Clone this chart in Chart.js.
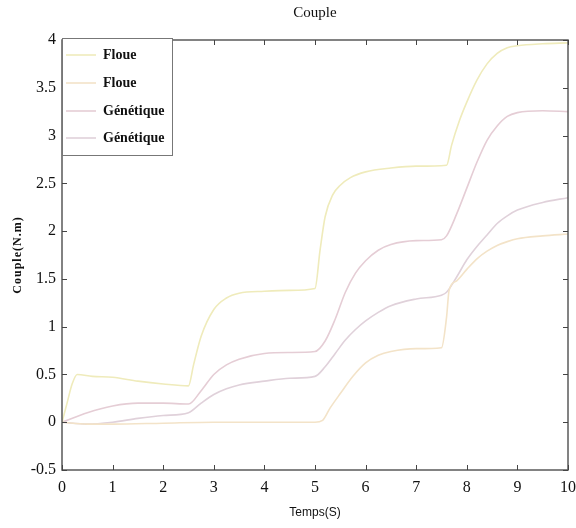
<!DOCTYPE html>
<html>
<head>
<meta charset="utf-8">
<script src="https://cdn.jsdelivr.net/npm/chart.js@4"></script>
<style>
  html, body { margin: 0; padding: 0; background: #fff; }
  #wrap { width: 576px; height: 528px; }
</style>
</head>
<body>
<div id="wrap"><canvas id="c" width="576" height="528"></canvas></div>
<script>
// Time grids (s) and torque values (N.m) for each response
const tFloue1 = [0, 0.1, 0.2, 0.3, 0.6, 1.0, 1.5, 2.0, 2.5, 2.6, 2.75, 3.0, 3.25, 3.5, 4.0, 4.5, 5.0, 5.1, 5.2, 5.35, 5.5, 5.7, 6.0, 6.5, 7.0, 7.6, 7.7, 7.85, 8.0, 8.2, 8.4, 8.6, 8.8, 9.0, 9.5, 10];
const vFloue1 = [0, 0.2, 0.4, 0.5, 0.48, 0.47, 0.43, 0.4, 0.38, 0.6, 0.9, 1.18, 1.3, 1.35, 1.37, 1.38, 1.4, 1.8, 2.15, 2.38, 2.48, 2.56, 2.62, 2.66, 2.68, 2.69, 2.9, 3.15, 3.35, 3.58, 3.75, 3.86, 3.92, 3.94, 3.96, 3.97];

const tFloue2 = [0, 0.5, 1, 2, 3, 4, 5, 5.15, 5.3, 5.5, 5.75, 6.0, 6.25, 6.5, 7.0, 7.5, 7.6, 7.65, 7.8, 8.0, 8.2, 8.4, 8.6, 8.8, 9.0, 9.5, 10];
const vFloue2 = [0, -0.02, -0.02, -0.01, 0, 0, 0, 0.02, 0.15, 0.3, 0.48, 0.62, 0.7, 0.74, 0.77, 0.78, 1.1, 1.38, 1.48, 1.6, 1.71, 1.79, 1.85, 1.89, 1.92, 1.95, 1.97];

const tGen1 = [0, 0.5, 1, 1.5, 2, 2.5, 2.75, 3.0, 3.25, 3.5, 4.0, 4.5, 5.0, 5.2, 5.4, 5.6, 5.8, 6.0, 6.25, 6.5, 7.0, 7.5, 7.6, 7.8, 8.0, 8.2, 8.4, 8.6, 8.8, 9.0, 9.5, 10];
const vGen1 = [0, 0.1, 0.17, 0.2, 0.2, 0.19, 0.33, 0.5, 0.6, 0.66, 0.72, 0.73, 0.74, 0.85, 1.08, 1.36, 1.56, 1.69, 1.8, 1.86, 1.9, 1.91, 1.95, 2.18, 2.45, 2.72, 2.95, 3.1, 3.2, 3.24, 3.26, 3.25];

const tGen2 = [0, 0.5, 1, 1.5, 2, 2.5, 2.75, 3.0, 3.25, 3.5, 4.0, 4.5, 5.0, 5.2, 5.4, 5.6, 5.8, 6.0, 6.25, 6.5, 7.0, 7.5, 7.6, 7.8, 8.0, 8.2, 8.4, 8.6, 8.8, 9.0, 9.5, 10];
const vGen2 = [0, -0.02, 0, 0.04, 0.07, 0.1, 0.2, 0.29, 0.35, 0.39, 0.43, 0.46, 0.48, 0.58, 0.72, 0.86, 0.97, 1.06, 1.15, 1.22, 1.29, 1.33, 1.36, 1.52, 1.7, 1.84, 1.96, 2.08, 2.16, 2.22, 2.3, 2.35];

const seriesLabels = ['Floue', 'Floue', 'Génétique', 'Génétique'];
const xTicks = [0, 1, 2, 3, 4, 5, 6, 7, 8, 9, 10];
const yTicks = [-0.5, 0, 0.5, 1, 1.5, 2, 2.5, 3, 3.5, 4];

const pts = (t, v) => t.map((x, i) => ({ x: x, y: v[i] }));
const colors = ['#efebbb', '#f3e3c8', '#e5cdd5', '#e0d1da'];

const datasets = [
  pts(tFloue1, vFloue1),
  pts(tFloue2, vFloue2),
  pts(tGen1, vGen1),
  pts(tGen2, vGen2)
].map((data, i) => ({
  label: seriesLabels[i],
  data: data,
  borderColor: colors[i],
  backgroundColor: colors[i],
  borderWidth: 1.6,
  pointRadius: 0,
  tension: 0.35,
  cubicInterpolationMode: 'monotone',
  fill: false
}));

const SERIF = '"Liberation Serif", "Times New Roman", serif';

// Frame, inward ticks, titles and boxed legend
const decor = {
  id: 'decor',
  afterDatasetsDraw(chart) {
    const { ctx, chartArea: a, scales } = chart;
    const xs = scales.x, ys = scales.y;
    ctx.save();
    // frame
    ctx.strokeStyle = '#5a5a5a';
    ctx.lineWidth = 1.5;
    ctx.strokeRect(a.left, a.top, a.right - a.left, a.bottom - a.top);
    // inward ticks
    ctx.lineWidth = 1;
    ctx.strokeStyle = '#444';
    ctx.beginPath();
    xTicks.forEach(v => {
      const px = Math.round(xs.getPixelForValue(v)) + 0.5;
      ctx.moveTo(px, a.bottom); ctx.lineTo(px, a.bottom - 5);
      ctx.moveTo(px, a.top); ctx.lineTo(px, a.top + 5);
    });
    yTicks.forEach(v => {
      const py = Math.round(ys.getPixelForValue(v)) + 0.5;
      ctx.moveTo(a.left, py); ctx.lineTo(a.left + 5, py);
      ctx.moveTo(a.right, py); ctx.lineTo(a.right - 5, py);
    });
    ctx.stroke();

    // title
    ctx.fillStyle = '#111';
    ctx.textAlign = 'center';
    ctx.textBaseline = 'middle';
    ctx.font = '15px ' + SERIF;
    ctx.fillText('Couple', (a.left + a.right) / 2, 13);

    // x axis title
    ctx.font = '12px "Liberation Sans Narrow", "Liberation Sans", Arial, sans-serif';
    ctx.fillText('Temps(S)', (a.left + a.right) / 2, 513);

    // y axis title
    ctx.save();
    ctx.translate(18, (a.top + a.bottom) / 2);
    ctx.rotate(-Math.PI / 2);
    ctx.font = 'bold 12px ' + SERIF;
    if ('letterSpacing' in ctx) ctx.letterSpacing = '1px';
    ctx.fillText('Couple(N.m)', 0, 0);
    ctx.restore();

    // legend box
    const lx = a.left, ly = 38, lw = 110, lh = 117;
    ctx.fillStyle = '#fff';
    ctx.fillRect(lx, ly, lw, lh);
    ctx.strokeStyle = '#777';
    ctx.lineWidth = 1;
    ctx.strokeRect(lx + 0.5, ly + 0.5, lw, lh);
    const rows = [55, 83, 111, 138];
    ctx.textAlign = 'left';
    ctx.font = 'bold 14px ' + SERIF;
    chart.data.datasets.forEach((ds, i) => {
      ctx.strokeStyle = ds.borderColor;
      ctx.lineWidth = 1.6;
      ctx.beginPath();
      ctx.moveTo(lx + 4, rows[i]);
      ctx.lineTo(lx + 34, rows[i]);
      ctx.stroke();
      ctx.fillStyle = '#111';
      ctx.fillText(ds.label, lx + 41, rows[i]);
    });
    ctx.restore();
  }
};

new Chart(document.getElementById('c'), {
  type: 'line',
  data: { datasets: datasets },
  options: {
    responsive: false,
    animation: false,
    layout: { padding: { top: 40, right: 8, left: 0, bottom: 0 } },
    plugins: {
      legend: { display: false },
      title: { display: false },
      tooltip: { enabled: false }
    },
    scales: {
      x: {
        type: 'linear',
        min: 0, max: 10,
        afterBuildTicks: s => { s.ticks = xTicks.map(v => ({ value: v })); },
        afterFit: s => { s.height = 58; s.paddingLeft = 0; s.paddingRight = 0; },
        grid: { display: false, drawTicks: false },
        border: { display: false },
        ticks: {
          padding: 8,
          color: '#111',
          font: { family: SERIF, size: 16 },
          callback: v => String(v)
        }
      },
      y: {
        type: 'linear',
        min: -0.5, max: 4,
        afterBuildTicks: s => { s.ticks = yTicks.map(v => ({ value: v })); },
        afterFit: s => { s.width = 62; s.paddingTop = 0; s.paddingBottom = 0; },
        grid: { display: false, drawTicks: false },
        border: { display: false },
        ticks: {
          padding: 6,
          color: '#111',
          font: { family: SERIF, size: 16 },
          callback: v => String(v)
        }
      }
    }
  },
  plugins: [decor]
});
</script>
</body>
</html>
